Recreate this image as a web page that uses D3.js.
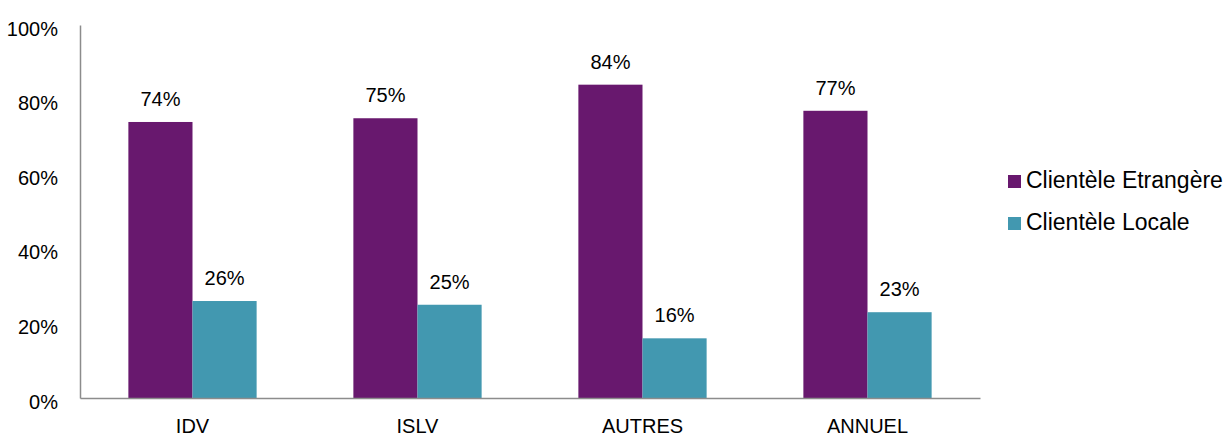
<!DOCTYPE html>
<html lang="fr">
<head>
<meta charset="UTF-8">
<script src="https://cdnjs.cloudflare.com/ajax/libs/d3/7.8.5/d3.min.js"></script>
<style>
  body { margin: 0; background: #fff; }
  text { font-family: "Liberation Sans", Arial, sans-serif; fill: #000; }
</style>
</head>
<body>
<div id="chart"></div>
<script>
const categories = ["IDV", "ISLV", "AUTRES", "ANNUEL"];
const seriesNames = ["Clientèle Etrangère", "Clientèle Locale"];
const etrangere = [74, 75, 84, 77];
const locale = [26, 25, 16, 23];
const yTicks = [0, 20, 40, 60, 80, 100];
const colors = ["#68186e", "#4298b0"];

const width = 1230, height = 437;
const x0 = 80, x1 = 980, yTop = 25, yBottom = 398;

const svg = d3.select("#chart").append("svg")
  .attr("width", width).attr("height", height);

const x = d3.scaleBand().domain(categories).range([x0, x1]).paddingInner(0.43).paddingOuter(0.215);
const xs = d3.scaleBand().domain(seriesNames).range([0, x.bandwidth()]);
const y = d3.scaleLinear().domain([0, 100]).range([yBottom, yTop]);

// y axis labels
const yAxis = d3.axisLeft(y).tickValues(yTicks).tickSize(0).tickPadding(22).tickFormat(d => d + "%");
const gy = svg.append("g").attr("transform", `translate(${x0},0)`).call(yAxis);
gy.select(".domain").attr("stroke", "#8c8c8c").attr("stroke-width", 1.5);
gy.selectAll("text").style("font-size", "20px").attr("dy", "0.5em");

// bars
const data = categories.map((c, i) => ({ cat: c, vals: [etrangere[i], locale[i]] }));
const groups = svg.selectAll("g.grp").data(data).enter().append("g")
  .attr("class", "grp").attr("transform", d => `translate(${x(d.cat)},0)`);
groups.selectAll("rect").data(d => d.vals.map((v, j) => ({ v, s: seriesNames[j], j })))
  .enter().append("rect")
  .attr("x", d => xs(d.s)).attr("width", xs.bandwidth())
  .attr("y", d => y(d.v)).attr("height", d => yBottom - y(d.v))
  .attr("fill", d => colors[d.j]);
groups.selectAll("text.val").data(d => d.vals.map((v, j) => ({ v, s: seriesNames[j] })))
  .enter().append("text").attr("class", "val")
  .attr("x", d => xs(d.s) + xs.bandwidth() / 2)
  .attr("y", d => y(d.v) - 16)
  .attr("text-anchor", "middle").style("font-size", "20px")
  .text(d => d.v + "%");

// x axis
const xAxis = d3.axisBottom(x).tickSize(0);
const gx = svg.append("g").attr("transform", `translate(0,${yBottom})`).call(xAxis);
gx.select(".domain").attr("stroke", "#8c8c8c").attr("stroke-width", 1.5);
gx.selectAll("text").style("font-size", "20px").attr("y", 35).attr("dy", null);

// legend
const legend = svg.append("g").attr("transform", "translate(1008,175)");
seriesNames.forEach((s, i) => {
  const g = legend.append("g").attr("transform", `translate(0,${i * 42})`);
  g.append("rect").attr("width", 13).attr("height", 13).attr("fill", colors[i]);
  g.append("text").attr("x", 18).attr("y", 13).style("font-size", "23px").text(s);
});
</script>
</body>
</html>
